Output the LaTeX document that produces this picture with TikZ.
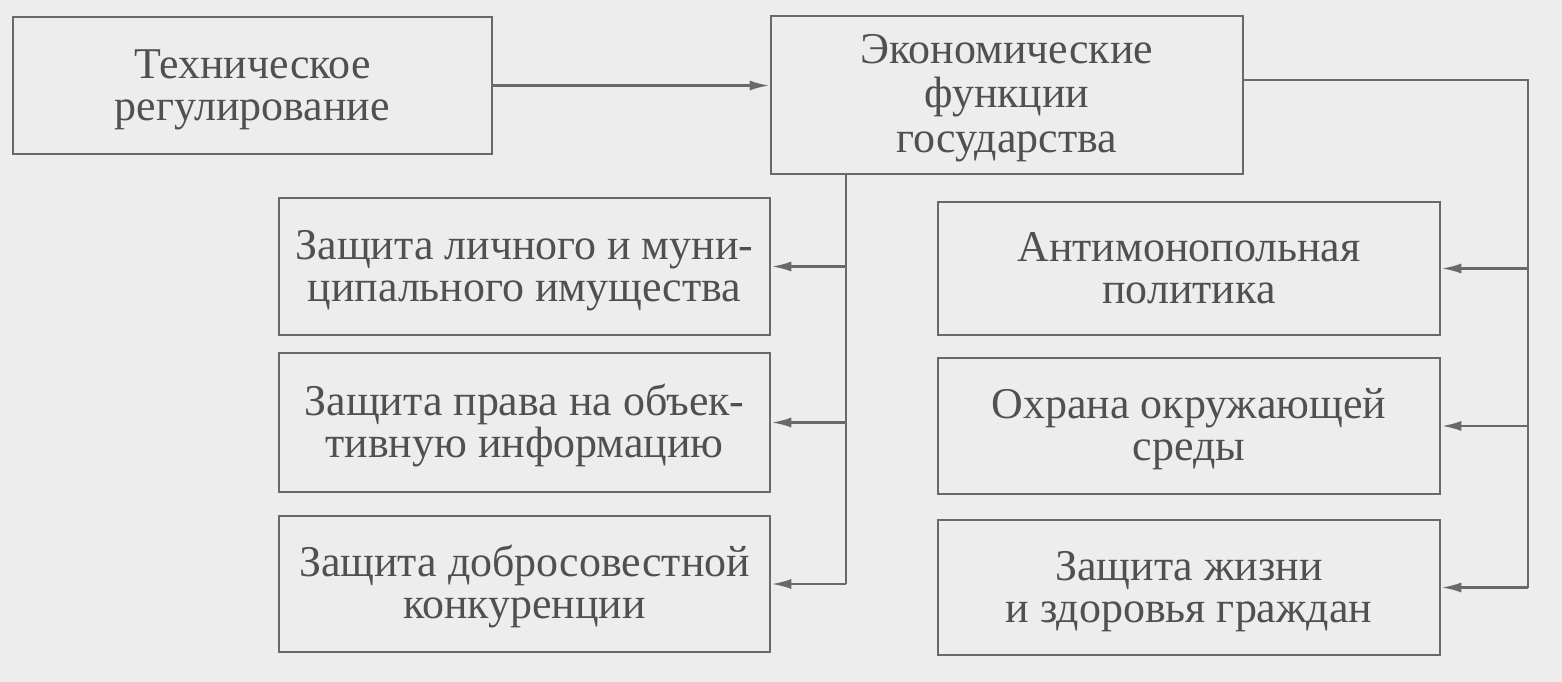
\documentclass[tikz,border=0pt]{standalone}
\usepackage{fontspec}
\setmainfont{Liberation Serif}
\usetikzlibrary{arrows.meta}
\definecolor{paper}{RGB}{236,237,236}
\definecolor{ink}{RGB}{80,80,80}
\definecolor{rule}{RGB}{105,105,105}

\begin{document}
\begin{tikzpicture}[x=.02cm, y=-.02cm,
	box/.style={draw=rule, line width=1.5pt, fill=paper, text=ink, align=center, inner sep=0pt, font=\fontsize{25}{24}\selectfont,
		text height=45.5pt, text depth=6pt},
	wire/.style={draw=rule, line width=1.5pt},
	arr/.style={wire, -{Latex[length=4mm, width=2mm]}}]
	\fill[paper] (0,0) rectangle (1562,682);
	\useasboundingbox (0,0) rectangle (1562,682);

	\node[box, minimum width=9.58cm, minimum height=2.74cm] (tech) at (252.5,85.5) {Техническое\\регулирование};
	\node[box, minimum width=9.44cm, minimum height=3.16cm, font=\fontsize{25}{25.5}\selectfont, text height=71.6pt] (econ) at (1007,95) {Экономические\\функции\\государства};

	\node[box, minimum width=9.82cm, minimum height=2.74cm] (lbox1) at (524.5,266.5) {Защита личного и муни-\\ципального имущества};
	\node[box, minimum width=9.82cm, minimum height=2.78cm] (lbox2) at (524.5,422.5) {Защита права на объек-\\тивную информацию};
	\node[box, minimum width=9.82cm, minimum height=2.72cm] (lbox3) at (524.5,584) {Защита добросовестной\\конкуренции};

	\node[box, minimum width=10.04cm, minimum height=2.66cm] (rbox1) at (1189,268.5) {Антимонопольная\\политика};
	\node[box, minimum width=10.04cm, minimum height=2.72cm] (rbox2) at (1189,426) {Охрана окружающей\\среды};
	\node[box, minimum width=10.04cm, minimum height=2.70cm] (rbox3) at (1189,587.5) {Защита жизни\\и здоровья граждан};

	\coordinate (lbus) at (846,0);
	\coordinate (rbus) at (1528,0);

	\draw[arr] (tech.east) -- (tech.east -| econ.west);

	\draw[wire] (econ.south -| lbus) -- (lbox3.east -| lbus);
	\draw[wire] ([yshift=.3cm]econ.east) -| (rbox3.east -| rbus);
	\foreach \i in {1,...,3}{
		\draw[arr] (lbox\i.east -| lbus) -- (lbox\i.east);
		\draw[arr] (rbox\i.east -| rbus) -- (rbox\i.east);
	}
\end{tikzpicture}
\end{document}
